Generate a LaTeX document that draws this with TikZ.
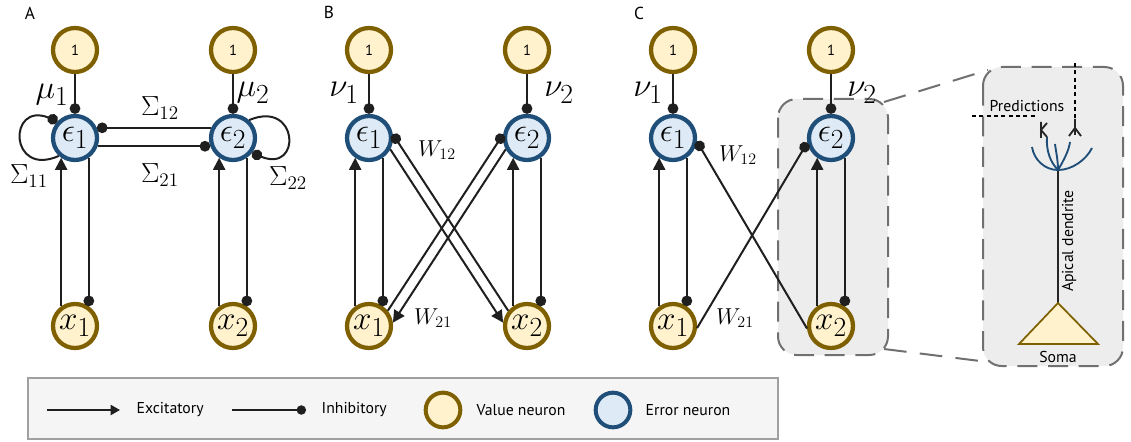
\documentclass[tikz,border=0pt]{standalone}
\usepackage[no-math]{fontspec}
\setmainfont{PT Sans}
\usetikzlibrary{arrows.meta}

\definecolor{valfill}{HTML}{FFF2CC}
\definecolor{valline}{HTML}{7F6000}
\definecolor{errfill}{HTML}{DEEBF7}
\definecolor{errline}{HTML}{1F4E79}
\definecolor{boxfill}{HTML}{EDEDED}
\definecolor{boxline}{HTML}{707070}
\definecolor{legfill}{HTML}{F5F5F5}
\definecolor{legline}{HTML}{A0A0A0}

\tikzset{
  val/.style={circle, draw=valline, fill=valfill, line width=3.2pt, minimum size=33pt, inner sep=0pt, font=\Huge},
  err/.style={circle, draw=errline, fill=errfill, line width=3.2pt, minimum size=33pt, inner sep=0pt, font=\Huge},
  exc/.style={line width=1.5pt, draw=black!88, -{Triangle[length=9pt,width=9pt]}},
  inh/.style={line width=1.5pt, draw=black!88, -{Circle[length=8pt]}},
  wlab/.style={font=\LARGE},
  slab/.style={font=\huge},
  nlab/.style={font=\Huge},
  panel/.style={font=\fontsize{13}{15}\selectfont},
  insetbox/.style={draw=boxline, fill=boxfill, line width=1.5pt, dash pattern=on 15pt off 8pt, rounded corners=14pt},
  zoomline/.style={draw=boxline, line width=1.5pt, dash pattern=on 17pt off 10pt},
  predline/.style={line width=1.1pt, dash pattern=on 3pt off 2.5pt},
  txt/.style={font=\fontsize{11.8}{14}\selectfont},
  legtext/.style={anchor=west, font=\fontsize{11.8}{14}\selectfont}
}

\begin{document}
\begin{tikzpicture}[x=0.75pt, y=-0.75pt]
	\useasboundingbox (0,0) rectangle (1131,442);

	%grey boxes and zoom lines
	\draw[insetbox] (778,99) rectangle (888,355);
	\draw[insetbox] (983,67) rectangle (1123,366);
	\coordinate (cTR) at (884,102);
	\coordinate (cBR) at (884,349);
	\coordinate (nTL) at (988,70);
	\coordinate (nBL) at (988,362);
	\draw[zoomline] (cTR) -- (nTL);
	\draw[zoomline] (cBR) -- (nBL);

	%neurons of the three circuits
	\foreach \p/\xa in {A/75, B/369, C/673}{
		\node[val, font=\fontsize{11}{13}\selectfont] (t\p1) at (\xa,50) {1};
		\node[val, font=\fontsize{11}{13}\selectfont] (t\p2) at (\xa+158,50) {1};
		\node[err] (e\p1) at (\xa,138) {$\epsilon_1$};
		\node[err] (e\p2) at (\xa+158,138) {$\epsilon_2$};
		\node[val] (x\p1) at (\xa,326) {$x_1$};
		\node[val] (x\p2) at (\xa+158,326) {$x_2$};
	}
	\node[panel] (labA) at (30,13) {A};
	\node[panel] (labB) at (329,12) {B};
	\node[panel] (labC) at (639,13) {C};

	%vertical connections
	\foreach \p in {A,B,C}{
		\foreach \i in {1,2}{
			\draw[inh] (t\p\i) -- (e\p\i);
			\draw[exc] (x\p\i.125) -- (e\p\i.235);
			\draw[inh] (e\p\i.305) -- (x\p\i.55);
		}
	}

	%A: lateral and self connections
	\draw[inh] (eA2.155) -- (eA1.25);
	\draw[inh] (eA1.-20) -- (eA2.200);
	\draw[inh] (eA1.228) .. controls +(-50,22) and +(-50,-20) .. (eA1.136);
	\draw[inh] (eA2.48) .. controls +(50,-21) and +(50,21) .. (eA2.-38);
	\node[nlab] (mu1) at (52,95) {$\mu_1$};
	\node[nlab] (mu2) at (253,93) {$\mu_2$};
	\node[slab] (s12) at (160,108) {$\Sigma_{12}$};
	\node[slab] (s21) at (160,175) {$\Sigma_{21}$};
	\node[slab] (s11) at (29,176) {$\Sigma_{11}$};
	\node[slab] (s22) at (288,178) {$\Sigma_{22}$};

	%B: crossed connections
	\draw[inh] (xB2.141) -- (eB1.9);
	\draw[exc] (eB1.-28) -- (xB2.172);
	\draw[inh] (xB1.39) -- (eB2.171);
	\draw[exc] (eB2.208) -- (xB1.8);
	\node[nlab] (nuB1) at (344,93) {$\nu_1$};
	\node[nlab] (nuB2) at (559,93) {$\nu_2$};
	\node[wlab] (wB12) at (437,150) {$W_{12}$};
	\node[wlab] (wB21) at (433,318) {$W_{21}$};

	%C: crossed inhibition only
	\draw[inh] (xC2.186) -- (eC1.-8);
	\draw[inh] (xC1.-5) -- (eC2.191);
	\node[nlab] (nuC1) at (648,93) {$\nu_1$};
	\node[nlab] (nuC2) at (862,93) {$\nu_2$};
	\node[wlab] (wC12) at (738,155) {$W_{12}$};
	\node[wlab] (wC21) at (735,318) {$W_{21}$};

	%pyramidal neuron
	\coordinate (tuft) at (1058,170);
	\coordinate (apex) at (1058,303);
	\draw[line width=1.4pt, black!85] (tuft) -- (apex);
	\draw[fill=valfill, draw=valline, line width=1.3pt] (apex) -- (1098,344) -- (1019,344) -- cycle;
	\draw[errline, line width=1.4pt] (tuft) .. controls (1045,170) and (1034,160) .. (1032,147);
	\draw[errline, line width=1.4pt] (tuft) .. controls (1050,162) and (1046,150) .. (1047,137);
	\draw[errline, line width=1.4pt] (tuft) .. controls (1058,160) and (1056,152) .. (1055,144);
	\draw[errline, line width=1.4pt] (tuft) .. controls (1064,160) and (1069,150) .. (1070,142);
	\draw[errline, line width=1.4pt] (tuft) .. controls (1072,170) and (1086,160) .. (1092,148);
	%prediction inputs
	\draw[predline] (972,116) -- (1037,116);
	\draw[predline] (1075,63) -- (1075,120);
	\draw[line width=1.4pt, black!85] (1041,122) -- (1041,138) (1047,123) -- (1041,130) -- (1047,137);
	\draw[line width=1.4pt, black!85] (1075,119) -- (1075,135) (1069,136) -- (1075,128) -- (1081,136);
	\node[txt] (predT) at (1027,106) {Predictions};
	\node[txt, rotate=90] (apicT) at (1069,241) {Apical dendrite};
	\node[txt] (somaT) at (1058,357) {Soma};

	%legend
	\draw[fill=legfill, draw=legline, line width=0.8pt] (28,378) rectangle (778,439);
	\coordinate (excL) at (47,410);
	\coordinate (excR) at (120,410);
	\coordinate (inhL) at (232,410);
	\coordinate (inhR) at (306,410);
	\draw[exc, -{Triangle[length=7pt,width=7.5pt]}] (excL) -- (excR);
	\node[legtext] (excT) at (132,410) {Excitatory};
	\draw[inh, -{Circle[length=7pt]}] (inhL) -- (inhR);
	\node[legtext] (inhT) at (317,410) {Inhibitory};
	\node[val, minimum size=26pt, line width=3pt] (valKey) at (443,410) {};
	\node[legtext] (valT) at (472,410) {Value neuron};
	\node[err, minimum size=26pt, line width=3pt] (errKey) at (613,410) {};
	\node[legtext] (errT) at (641,410) {Error neuron};
\end{tikzpicture}
\end{document}
